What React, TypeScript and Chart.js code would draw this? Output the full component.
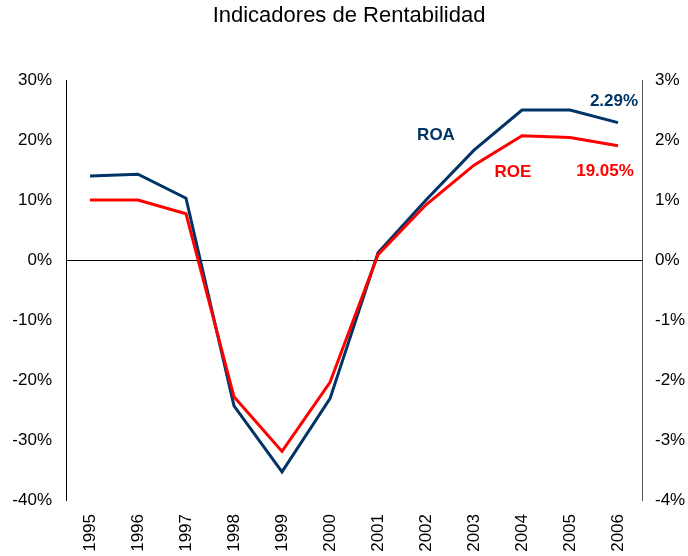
import React, { useEffect, useRef } from "react";
import { Chart, registerables } from "chart.js";

Chart.register(...registerables);

const years = ["1995", "1996", "1997", "1998", "1999", "2000", "2001", "2002", "2003", "2004", "2005", "2006"];
const roe = [10.0, 10.0, 7.7, -22.8, -31.9, -20.4, 0.9, 9.2, 15.8, 20.7, 20.4, 19.05];
const roa = [1.4, 1.43, 1.03, -2.43, -3.53, -2.31, 0.12, 1.0, 1.83, 2.5, 2.5, 2.29];
const leftTicks = { min: -40, max: 30, step: 10 };
const rightTicks = { min: -4, max: 3, step: 1 };
const title = "Indicadores de Rentabilidad";

const BLUE = "#003366";
const RED = "#ff0000";
const FONT = "'Liberation Sans', Arial, sans-serif";

export default function App() {
  const ref = useRef<HTMLCanvasElement | null>(null);

  useEffect(() => {
    document.body.style.margin = "0";
    const canvas = ref.current!;
    const annot = {
      id: "annot",
      afterDraw(chart: any) {
        const ctx = chart.ctx;
        const x = chart.scales.x;
        const yl = chart.scales.yL;
        const yr = chart.scales.yR;
        ctx.save();
        ctx.fillStyle = "#000";
        ctx.font = `22px ${FONT}`;
        ctx.textAlign = "center";
        ctx.textBaseline = "middle";
        ctx.fillText(title, 349, 16);
        ctx.font = `bold 17px ${FONT}`;
        ctx.fillStyle = BLUE;
        ctx.fillText("ROA", x.getPixelForValue(7) + 10, yr.getPixelForValue(2.08));
        ctx.fillText(roa[11].toFixed(2) + "%", x.getPixelForValue(11) - 4, yr.getPixelForValue(2.65));
        ctx.fillStyle = RED;
        ctx.fillText("ROE", x.getPixelForValue(9) - 9, yl.getPixelForValue(14.6));
        ctx.fillText(roe[11].toFixed(2) + "%", x.getPixelForValue(11) - 13, yl.getPixelForValue(14.8));
        ctx.restore();
      },
    };

    const chart = new Chart(canvas, {
      type: "line",
      data: {
        labels: years,
        datasets: [
          {
            label: "ROE",
            data: roe,
            yAxisID: "yL",
            borderColor: RED,
            borderWidth: 3,
            pointRadius: 0,
            tension: 0,
          },
          {
            label: "ROA",
            data: roa,
            yAxisID: "yR",
            borderColor: BLUE,
            borderWidth: 3,
            pointRadius: 0,
            tension: 0,
          },
        ],
      },
      options: {
        animation: false,
        responsive: false,
        layout: { padding: { top: 80, left: 0, right: 0, bottom: 0 } },
        plugins: { legend: { display: false }, tooltip: { enabled: false }, title: { display: false } },
        scales: {
          x: {
            offset: true,
            grid: { display: false, drawTicks: false },
            border: { display: false },
            ticks: {
              minRotation: 90,
              maxRotation: 90,
              padding: 14,
              color: "#000",
              font: { family: FONT, size: 17 },
            },
            afterFit(s: any) {
              s.height = 56;
            },
          },
          yL: {
            position: "left",
            min: leftTicks.min,
            max: leftTicks.max,
            grid: {
              drawTicks: false,
              color: (c: any) => (c.tick && c.tick.value === 0 ? "#000" : "rgba(0,0,0,0)"),
              lineWidth: 1,
            },
            border: { display: true, color: "#000", width: 1 },
            ticks: {
              stepSize: leftTicks.step,
              padding: 14,
              color: "#000",
              font: { family: FONT, size: 17 },
              callback: (v: any) => v + "%",
            },
            afterFit(s: any) {
              s.width = 66;
            },
          },
          yR: {
            position: "right",
            min: rightTicks.min,
            max: rightTicks.max,
            grid: { display: false, drawTicks: false },
            border: { display: true, color: "#555", width: 1 },
            ticks: {
              stepSize: rightTicks.step,
              padding: 13,
              color: "#000",
              font: { family: FONT, size: 17 },
              callback: (v: any) => v + "%",
            },
            afterFit(s: any) {
              s.width = 46;
            },
          },
        },
      },
      plugins: [annot],
    } as any);
    return () => chart.destroy();
  }, []);

  return (
    <div style={{ position: "absolute", left: 0, top: 0, width: 688, height: 556 }}>
      <canvas ref={ref} width={688} height={556} style={{ width: 688, height: 556 }} />
    </div>
  );
}
